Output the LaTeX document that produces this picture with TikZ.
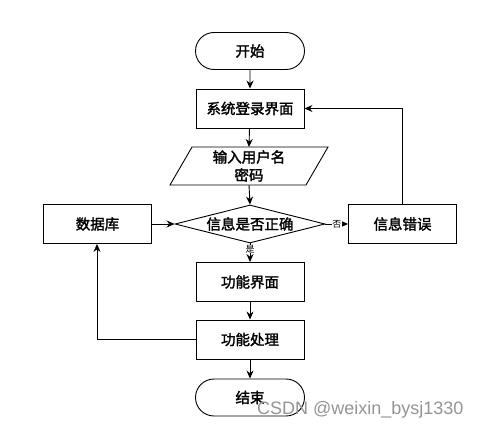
\documentclass[tikz,border=0pt]{standalone}
\usepackage{fontspec}
\newfontfamily\cjk{Noto Sans CJK SC}[FakeBold=1.8]
\newfontfamily\cjkl{Noto Sans CJK SC}
\newfontfamily\wm{Liberation Sans}
\usetikzlibrary{arrows.meta,shapes.geometric,shapes.misc}
\begin{document}
\begin{tikzpicture}[x=1pt,y=-1pt,
  base/.style={draw=black,line width=0.9pt,font=\cjk\fontsize{14.5}{18}\selectfont,inner sep=0pt,align=center},
  proc/.style={base,rectangle,minimum width=108pt,minimum height=39pt},
  term/.style={base,rounded rectangle,minimum width=109pt,minimum height=37pt},
  dec/.style={base,diamond,aspect=3.95,minimum width=150pt,minimum height=38pt,inner sep=0pt},
  arr/.style={line width=0.9pt,-{Stealth[length=8pt,width=7pt]}},
  ln/.style={line width=0.9pt},
  lab/.style={font=\cjkl\fontsize{9}{10}\selectfont,fill=white,inner sep=0.5pt}]
\useasboundingbox (0,0) rectangle (487,428);
\fill[white] (0,0) rectangle (487,428);
\node[term] (start) at (250,51) {开始};
\node[proc] (login) at (250,108.5) {系统登录界面};
\node[base,shape=rectangle,draw=none,minimum width=130pt,minimum height=38pt] (input) at (249,166) {输入用户名\\密码};
\draw[ln] (192,147) -- (328,147) -- (306,185) -- (170,185) -- cycle;
\node[dec] (check) at (250,224) {信息是否正确};
\node[proc] (db) at (97.5,224) {数据库};
\node[proc] (err) at (402.5,224) {信息错误};
\node[proc] (func) at (250,282) {功能界面};
\node[proc] (proc2) at (250,339.5) {功能处理};
\node[term] (end) at (250,397.5) {结束};
\coordinate (errtop) at (402,108.5);
\coordinate (dbc) at (97,339.5);
\draw[arr] (start) -- (login);
\draw[arr] (login) -- (input.north |- 0,147);
\draw[arr] (249,185) -- (check.north);
\draw[arr] (db) -- (check.west);
\draw[arr] (check.east) -- node[lab]{否} (err.west);
\draw[arr] (check.south) -- node[lab,pos=0.3]{是} (func.north);
\draw[arr] (func) -- (proc2);
\draw[arr] (proc2) -- (end);
\draw[arr] (err.north -| errtop) -- (errtop) -- (login.east);
\draw[arr] (proc2.west) -- (dbc) -- (db.south -| dbc);
\node[font=\wm\fontsize{18}{21}\selectfont,text=black!42,anchor=base west,inner sep=0pt] (mark) at (257,414) {CSDN @weixin\_bysj1330};
\end{tikzpicture}
\end{document}
